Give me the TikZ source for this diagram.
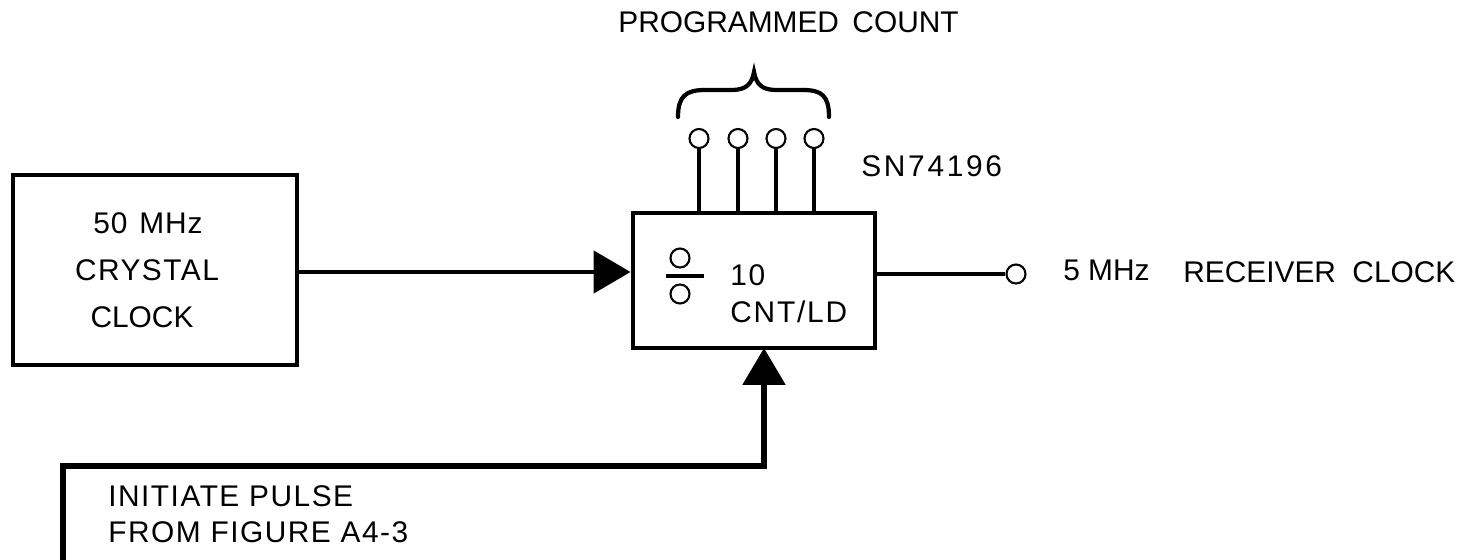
\documentclass[tikz,border=0pt]{standalone}
\usepackage{fontspec}
\setmainfont{Liberation Sans}
\usetikzlibrary{arrows.meta}
\tikzset{
  blk/.style={draw, line width=2.8pt, inner sep=0pt},
  wire/.style={line width=2.8pt},
  tri/.style={-{Triangle[length=0.74cm,width=0.84cm]}},
  pin/.style={draw, circle, line width=1.2pt, minimum size=0.38cm, inner sep=0pt, fill=white},
  lbl/.style={font=\fontsize{17}{22}\selectfont, inner sep=0pt},
  wide/.style={lbl, font=\fontsize{17}{22}\selectfont\addfontfeature{LetterSpace=#1}}
}
\begin{document}
\begin{tikzpicture}[x=0.02cm, y=-0.02cm]
\useasboundingbox (0,0) rectangle (1470,560);
% left oscillator box
\node[blk, minimum width=5.68cm, minimum height=3.8cm] (osc) at (155,270) {};
\node[wide=3] (t50) at (148,223) {50\hspace{0.4em}MHz};
\node[wide=5] (tcry) at (147,270) {CRYSTAL};
\node[lbl] (tclk) at (142,317) {CLOCK};
% counter box
\node[blk, minimum width=4.84cm, minimum height=2.7cm] (cnt) at (754,280.5) {};
% divide symbol
\draw[line width=2.6pt] (666,276) -- (704,276);
\node[pin, minimum size=0.38cm] (d1) at (680,258) {};
\node[pin, minimum size=0.38cm] (d2) at (680,294) {};
\node[wide=6, anchor=west] (t10) at (730,275) {10};
\node[wide=6, anchor=west] (tcl) at (730,312) {CNT/LD};
% input arrow
\draw[wire, tri] (osc.east |- 0,272) -- (cnt.west |- 0,272);
% programmed count pins
\foreach \i/\x in {1/699, 2/738, 3/776, 4/814} {
  \node[pin] (p\i) at (\x,138.5) {};
  \draw[wire] (p\i.south) -- (p\i.south |- cnt.north);
}
% brace
\draw[line width=2.4pt, line cap=round]
  (678,117) .. controls (678,96) and (686,90) .. (705,90) -- (732,90)
  .. controls (746,90) and (752,84) .. (754,72)
  .. controls (756,84) and (762,90) .. (776,90) -- (803,90)
  .. controls (822,90) and (829,96) .. (829,117);
\node[lbl, anchor=west] (tprog) at (618,22) {PROGRAMMED\hspace{0.45em}COUNT};
\node[wide=9, anchor=west] (tsn) at (861,166) {SN74196};
% output
\node[pin] (out) at (1016,274) {};
\draw[line width=2.4pt] (cnt.east |- out) -- (out.west);
\node[lbl, anchor=west] (tout) at (1063,270) {5 MHz};
\node[lbl, anchor=west] (tout2) at (1183,272) {RECEIVER\hspace{0.55em}CLOCK};
% initiate pulse
\coordinate (src) at (63,560);
\coordinate (ld) at (764,348);
\draw[line width=3.2pt, tri] (src) |- (ld |- 0,466) -- (ld);
\node[wide=5, anchor=west] (tinit) at (108,496) {INITIATE PULSE};
\node[wide=5, anchor=west] (tfrom) at (108,532) {FROM FIGURE A4-3};
\end{tikzpicture}
\end{document}
